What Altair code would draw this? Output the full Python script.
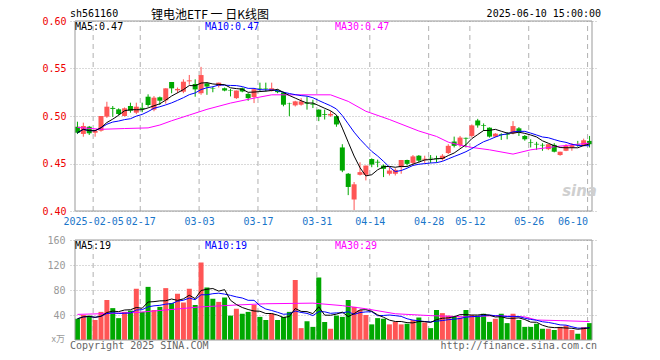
import altair as alt
import pandas as pd

# ---------------- data ----------------
opens = [
    .4887, .4811, .4887, .4824, .4845, .4993, .5085, .5070, .5000, .5105,
    .5035, .5085, .5203, .5067, .5197, .5165, .5358, .5270, .5256, .5365,
    .5337, .5240, .5344, .5295, .5316, .5292, .5270, .5188, .5292, .5233,
    .5199, .5295, .5295, .5264, .5268, .5247, .5130, .5112, .5119, .5140,
    .5130, .5067, .5020, .5005, .4998, .4669, .4392, .4121, .4381, .4381,
    .4547, .4518, .4478, .4392, .4392, .4461, .4537, .4506, .4582, .4540,
    .4560, .4552, .4547, .4610, .4731, .4693, .4770, .4790, .4953, .4905,
    .4877, .4783, .4810, .4810, .4818, .4870, .4790, .4724, .4707, .4696,
    .4651, .4696, .4589, .4634, .4669, .4705, .4693, .4738]
highs = [
    .4940, .4930, .4895, .4859, .5000, .5150, .5105, .5080, .5090, .5140,
    .5140, .5140, .5228, .5210, .5205, .5291, .5358, .5300, .5386, .5432,
    .5386, .5517, .5350, .5310, .5351, .5300, .5285, .5268, .5300, .5240,
    .5290, .5351, .5351, .5351, .5280, .5255, .5140, .5160, .5188, .5206,
    .5171, .5070, .5067, .5050, .5005, .4703, .4400, .4305, .4513, .4478,
    .4554, .4540, .4489, .4461, .4450, .4537, .4540, .4589, .4589, .4582,
    .4589, .4582, .4599, .4703, .4783, .4790, .4773, .4911, .4970, .4922,
    .4880, .4820, .4818, .4831, .4946, .4883, .4800, .4755, .4728, .4714,
    .4703, .4714, .4624, .4703, .4714, .4738, .4762, .4790]
lows = [
    .4810, .4782, .4800, .4782, .4835, .4980, .4990, .5010, .4995, .5035,
    .5020, .5040, .5098, .5050, .5116, .5130, .5239, .5240, .5240, .5330,
    .5203, .5223, .5223, .5250, .5300, .5260, .5206, .5180, .5250, .5160,
    .5136, .5258, .5258, .5258, .5240, .5102, .4998, .5100, .5109, .5067,
    .5084, .4946, .4963, .4991, .4887, .4409, .4167, .4010, .4374, .4322,
    .4461, .4461, .4357, .4374, .4374, .4392, .4478, .4478, .4513, .4506,
    .4506, .4510, .4530, .4599, .4669, .4669, .4669, .4773, .4877, .4842,
    .4773, .4776, .4748, .4755, .4807, .4790, .4740, .4669, .4644, .4634,
    .4641, .4617, .4582, .4630, .4634, .4676, .4680, .4669]
closes = [
    .4824, .4895, .4818, .4845, .5000, .5098, .5075, .5021, .5081, .5056,
    .5098, .5075, .5116, .5193, .5161, .5291, .5291, .5285, .5361, .5375,
    .5280, .5431, .5310, .5290, .5351, .5268, .5265, .5268, .5258, .5188,
    .5282, .5290, .5290, .5292, .5251, .5119, .5126, .5154, .5154, .5130,
    .5120, .4991, .5012, .5022, .4911, .4426, .4253, .4281, .4409, .4478,
    .4489, .4510, .4444, .4426, .4433, .4537, .4496, .4575, .4530, .4550,
    .4554, .4545, .4582, .4686, .4686, .4773, .4762, .4901, .4901, .4898,
    .4783, .4814, .4803, .4803, .4894, .4831, .4755, .4718, .4700, .4690,
    .4703, .4624, .4624, .4686, .4693, .4700, .4745, .4703]
volumes = [
    34, 40, 39, 32, 45, 64, 51, 35, 45, 47,
    82, 45, 85, 48, 53, 83, 59, 74, 60, 82,
    56, 124, 84, 66, 61, 68, 39, 50, 42, 45,
    56, 37, 32, 42, 32, 37, 45, 96, 19, 30,
    21, 100, 29, 18, 39, 37, 64, 53, 48, 40,
    25, 35, 34, 25, 29, 25, 26, 32, 36, 28,
    19, 48, 43, 39, 37, 36, 48, 40, 39, 42,
    29, 34, 42, 27, 42, 32, 21, 21, 26, 18,
    18, 16, 21, 23, 16, 10, 21, 27]

# MA30 lines (candle index, value)
ma30_idx = [0, 4, 8, 12, 14, 16, 19, 22, 26, 30, 33, 43, 46, 49, 53, 58, 61, 63, 65, 67, 70, 74, 77, 81, 85, 87]
ma30_val = [.4880, .4860, .4868, .4875, .4905, .4950, .5010, .5070, .5136, .5188, .5223, .5223, .5154, .5050,
            .4963, .4842, .4785, .4725, .4693, .4669, .4644, .4599, .4644, .4676, .4703, .4714]
vma30_idx = [0, 4, 10, 15, 21, 27, 32, 40, 45, 49, 54, 60, 66, 71, 76, 78, 82, 87]
vma30_val = [41, 42, 44, 48, 53, 56, 58, 59, 55, 50, 42, 39, 37, 39, 37, 32, 31, 29.5]

tick_idx = [3, 11, 21, 31, 41, 50, 60, 67, 77, 87]
tick_labels = ["2025-02-05", "02-17", "03-03", "03-17", "03-31", "04-14", "04-28", "05-12", "05-26", "06-10"]
price_ticks = [0.40, 0.45, 0.50, 0.55, 0.60]
vol_ticks = [40, 80, 120, 160]

# ---------------- tables ----------------
n = len(closes)
df = pd.DataFrame({"i": list(range(n)), "open": opens, "high": highs, "low": lows,
                   "close": closes, "vol": volumes})
df["dir"] = ["up" if c >= o else "down" for o, c in zip(opens, closes)]
ma30_df = pd.DataFrame({"i": ma30_idx, "v": ma30_val})
vma30_df = pd.DataFrame({"i": vma30_idx, "v": vma30_val})
grid_df = pd.DataFrame({"g": [t - 0.3333 for t in tick_idx]})
one = pd.DataFrame({"a": [0]})

MONO = "DejaVu Sans Mono"
RED = "#ff5555"
GREEN = "#00a800"

expr = "''"
for v, lab in zip(reversed(list(grid_df["g"])), reversed(tick_labels)):
    expr = f"abs(datum.value - {v:.4f}) < 0.05 ? '{lab}' : {expr}"

xs = alt.Scale(domain=[-0.4167, 87.4167], nice=False, zero=False)
xaxis = alt.Axis(values=list(grid_df["g"]), labelExpr=expr, labelColor="#1a75c9", labelFont=MONO,
                 labelFontSize=10, labelPadding=5, ticks=False, domain=False, grid=False, title=None,
                 labelFlush=10, labelOverlap=False, offset=-129, orient="bottom")
ys_p = alt.Scale(domain=[0.40, 0.60], range=[190, 0], nice=False, zero=False)
yaxis_p = alt.Axis(values=price_ticks, format=".2f", labelColor="#ee0000", labelFont=MONO, labelFontSize=10,
                   labelPadding=4, ticks=False, domain=False, grid=True, gridColor="#b4b4b4",
                   gridDash=[1, 2], title=None, labelOverlap=False)
ys_v = alt.Scale(domain=[0, 160], range=[319, 219], nice=False, zero=False)
yaxis_v = alt.Axis(values=vol_ticks, orient="left", labelColor="#999999", labelFont=MONO, labelFontSize=10,
                   labelPadding=5, ticks=False, domain=False, grid=True, gridColor="#b4b4b4",
                   gridDash=[1, 2], title=None, labelOverlap=False)
color = alt.Color("dir:N", scale=alt.Scale(domain=["up", "down"], range=[RED, GREEN]), legend=None)


def X(field):
    return alt.X(field, scale=xs, axis=xaxis)


base = alt.Chart(df)

# ---------------- price panel ----------------
p_grid = alt.Chart(grid_df).mark_rule(color="#b0b0b0", strokeDash=[5, 4]).encode(
    x=X("g:Q"), y=alt.YDatum(0.40, scale=ys_p, axis=yaxis_p), y2=alt.Y2Datum(0.60))
wick = base.mark_rule(strokeWidth=1).encode(
    x=X("i:Q"), y=alt.Y("low:Q", scale=ys_p, axis=yaxis_p), y2="high:Q", color=color)
body = base.mark_bar(width=5).encode(
    x=X("i:Q"), y=alt.Y("open:Q", scale=ys_p, axis=yaxis_p), y2="close:Q", color=color)
ma5 = base.transform_window(m="mean(close)", frame=[-4, 0], sort=[alt.SortField("i")]).mark_line(
    color="black", strokeWidth=1).encode(x=X("i:Q"), y=alt.Y("m:Q", scale=ys_p, axis=yaxis_p))
ma10 = base.transform_window(m="mean(close)", frame=[-9, 0], sort=[alt.SortField("i")]).mark_line(
    color="#0000ff", strokeWidth=1).encode(x=X("i:Q"), y=alt.Y("m:Q", scale=ys_p, axis=yaxis_p))
ma30 = alt.Chart(ma30_df).mark_line(color="#ff00ff", strokeWidth=1).encode(
    x=X("i:Q"), y=alt.Y("v:Q", scale=ys_p, axis=yaxis_p))
p_border = alt.Chart(one).mark_rect(fillOpacity=0, stroke="#999999", strokeWidth=1).encode(
    x=alt.XDatum(-0.4167, scale=xs, axis=xaxis), x2=alt.X2Datum(87.4167),
    y=alt.YDatum(0.40, scale=ys_p, axis=yaxis_p), y2=alt.Y2Datum(0.60))
price = alt.layer(p_grid, wick, body, ma30, ma10, ma5, p_border)

# ---------------- volume panel ----------------
v_grid = alt.Chart(grid_df).mark_rule(color="#b0b0b0", strokeDash=[5, 4]).encode(
    x=X("g:Q"), y=alt.YDatum(0, scale=ys_v, axis=yaxis_v), y2=alt.Y2Datum(160))
vbar = base.mark_bar(width=5).encode(
    x=X("i:Q"), y=alt.Y("vol:Q", scale=ys_v, axis=yaxis_v), color=color)
vma5 = base.transform_window(m="mean(vol)", frame=[-4, 0], sort=[alt.SortField("i")]).mark_line(
    color="black", strokeWidth=1).encode(x=X("i:Q"), y=alt.Y("m:Q", scale=ys_v, axis=yaxis_v))
vma10 = base.transform_window(m="mean(vol)", frame=[-9, 0], sort=[alt.SortField("i")]).mark_line(
    color="#0000ff", strokeWidth=1).encode(x=X("i:Q"), y=alt.Y("m:Q", scale=ys_v, axis=yaxis_v))
vma30 = alt.Chart(vma30_df).mark_line(color="#ff00ff", strokeWidth=1).encode(
    x=X("i:Q"), y=alt.Y("v:Q", scale=ys_v, axis=yaxis_v))
v_border = alt.Chart(one).mark_rect(fillOpacity=0, stroke="#999999", strokeWidth=1).encode(
    x=alt.XDatum(-0.4167, scale=xs, axis=xaxis), x2=alt.X2Datum(87.4167),
    y=alt.YDatum(0, scale=ys_v, axis=yaxis_v), y2=alt.Y2Datum(160))
volume = alt.layer(v_grid, vbar, vma30, vma10, vma5, v_border)


# ---------------- texts ----------------
def label(text, x, y, col, align="left", size=10, font=MONO, baseline="middle", **kw):
    return alt.Chart(one).mark_text(text=text, align=align, baseline=baseline, font=font,
                                    fontSize=size, color=col, **kw).encode(
        x=alt.value(x), y=alt.value(y))


texts = [
    label("sh561160", 0, -7, "#000000"),
    label("锂电池ETF 一 日K线图", 81, -6, "#000000", size=12, font="Noto Sans CJK SC"),
    label("2025-06-10 15:00:00", 531, -7, "#000000", align="right"),
    label("MA5:0.47", 5, 6, "#000000"),
    label("MA10:0.47", 135, 6, "#0000ff"),
    label("MA30:0.47", 265, 6, "#ff00ff"),
    label("MA5:19", 5, 225, "#000000"),
    label("MA10:19", 135, 225, "#0000ff"),
    label("MA30:29", 265, 225, "#ff00ff"),
    label("x万", -5, 318, "#999999", align="right", size=9, font="Noto Sans CJK SC"),
    label("Copyright 2025 SINA.COM", 0, 325, "#666666"),
    label("http://finance.sina.com.cn", 527, 325, "#666666", align="right"),
    label("sina", 527, 170, "#cfcfcf", align="right", size=15, font="DejaVu Sans",
          fontStyle="italic", fontWeight="bold"),
]

chart = alt.layer(price, volume, *texts).resolve_scale(y="independent").properties(
    width=527, height=319,
    padding={"left": 62, "top": 13, "right": 12, "bottom": 14},
    autosize=alt.AutoSizeParams(type="none"),
).configure_view(strokeWidth=0)

chart.save("out.html", embed_options={"renderer": "svg", "actions": False})
